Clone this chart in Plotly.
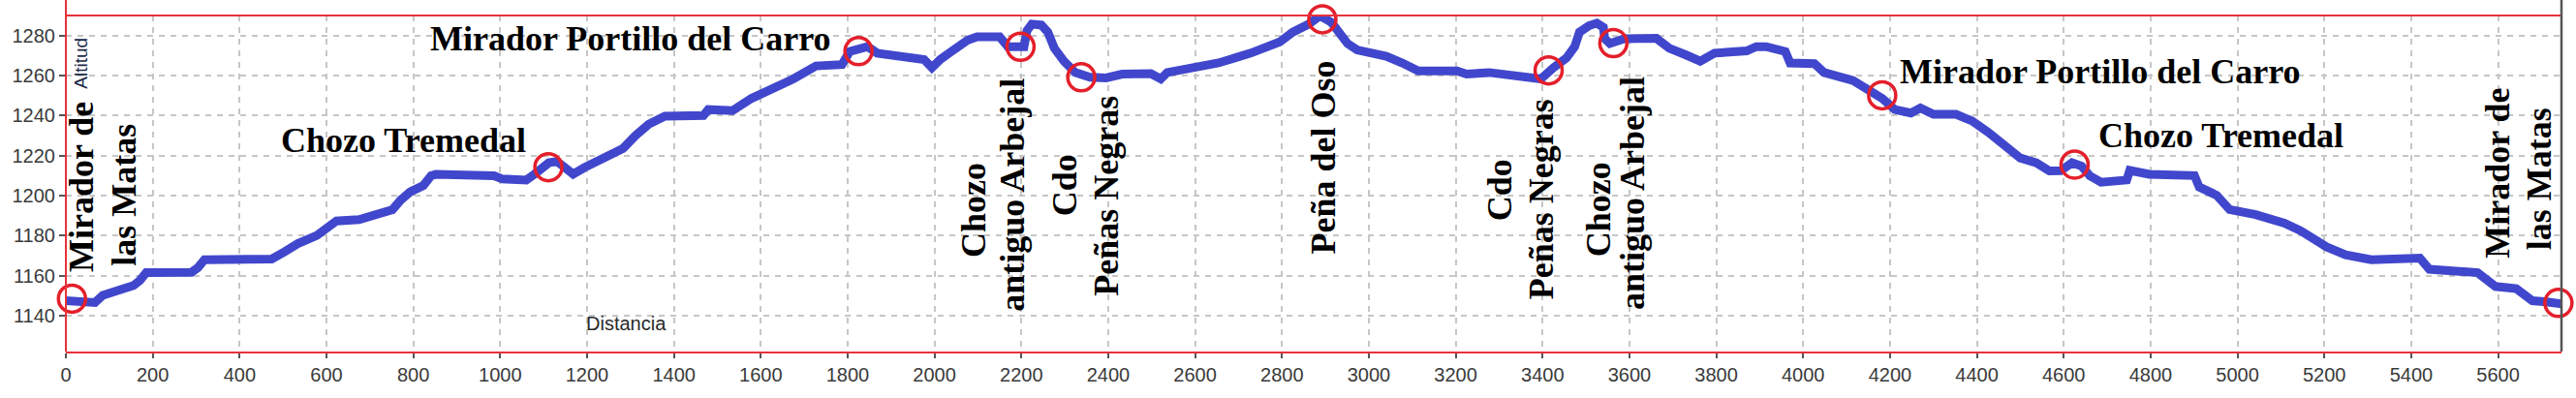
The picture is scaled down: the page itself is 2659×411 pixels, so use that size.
import plotly.graph_objects as go

# ---- data ----
distance = [0, 56, 67, 85, 119, 156, 170, 185, 289, 304, 319, 400, 474, 504, 534, 578, 600, 623,
            675, 712, 752, 771, 793, 823, 841, 852, 934, 986, 1005, 1060, 1079, 1112, 1131, 1149,
            1168, 1194, 1246, 1283, 1312, 1342, 1379, 1468, 1479, 1535, 1579, 1624, 1675, 1727,
            1787, 1805, 1846, 1868, 1913, 1943, 1976, 1994, 2013, 2039, 2076, 2098, 2150, 2169,
            2206, 2213, 2224, 2246, 2261, 2276, 2298, 2324, 2358, 2395, 2432, 2498, 2521, 2536,
            2595, 2654, 2728, 2795, 2825, 2862, 2884, 2891, 2914, 2932, 2951, 2973, 3040, 3077,
            3114, 3203, 3225, 3277, 3366, 3396, 3425, 3455, 3474, 3485, 3507, 3525, 3540, 3543,
            3555, 3588, 3662, 3692, 3729, 3763, 3796, 3870, 3892, 3915, 3959, 3970, 4026, 4048,
            4115, 4152, 4182, 4211, 4248, 4270, 4300, 4352, 4389, 4426, 4456, 4500, 4537, 4567,
            4593, 4619, 4641, 4660, 4686, 4745, 4752, 4797, 4901, 4912, 4952, 4982, 5042, 5108,
            5145, 5205, 5249, 5308, 5420, 5442, 5553, 5594, 5642, 5679, 5712, 5746]
altitude = [1147.5, 1147.5, 1146.6, 1150.2, 1153.0, 1155.1, 1157.5, 1161.5, 1161.7, 1164.0, 1168.0,
            1168.3, 1168.3, 1172.0, 1176.0, 1180.1, 1184.1, 1187.3, 1188.0, 1190.5, 1193.0, 1197.8,
            1201.9, 1205.0, 1209.9, 1210.6, 1210.6, 1209.9, 1208.3, 1207.8, 1210.7, 1216.4, 1217.1,
            1214.0, 1210.7, 1214.0, 1219.6, 1223.6, 1230.1, 1235.7, 1239.7, 1240.0, 1243.0, 1242.5,
            1248.6, 1252.6, 1258.3, 1264.8, 1265.5, 1272.0, 1274.4, 1271.2, 1269.6, 1268.8, 1268.0,
            1263.9, 1268.0, 1272.0, 1277.6, 1279.3, 1279.3, 1274.4, 1274.4, 1282.5, 1285.7, 1285.2,
            1281.7, 1273.6, 1267.2, 1261.5, 1259.1, 1258.8, 1260.7, 1261.0, 1258.3, 1261.5, 1263.9,
            1266.3, 1271.2, 1276.8, 1281.7, 1285.7, 1289.3, 1289.5, 1286.5, 1281.7, 1276.0, 1272.8,
            1269.6, 1266.3, 1262.3, 1262.3, 1260.7, 1261.5, 1259.1, 1258.3, 1263.9, 1268.8, 1274.4,
            1281.7, 1284.9, 1286.2, 1284.1, 1278.5, 1276.0, 1278.4, 1278.6, 1273.6, 1270.4, 1267.2,
            1271.2, 1272.3, 1274.4, 1274.4, 1272.0, 1266.3, 1265.9, 1261.5, 1257.5, 1252.6, 1248.6,
            1243.0, 1241.3, 1243.8, 1240.6, 1240.6, 1237.3, 1231.7, 1226.8, 1218.8, 1216.4, 1212.3,
            1212.4, 1216.4, 1214.7, 1209.9, 1206.7, 1207.8, 1212.6, 1210.7, 1210.0, 1204.3, 1200.2,
            1193.0, 1190.5, 1186.2, 1182.5, 1174.4, 1170.4, 1168.0, 1168.8, 1163.2, 1161.5, 1154.6,
            1153.5, 1147.5, 1146.9, 1145.9]

# waypoints (red circles)
waypoint_x = [14, 1111, 1825, 2198, 2338, 2893, 3414, 3563, 4182, 4625, 5739]
waypoint_y = [1148.5, 1214.2, 1272.2, 1274.4, 1259.1, 1288.1, 1262.6, 1276.2, 1250.1, 1215.5, 1146.4]

x_ticks = list(range(0, 5601, 200))
y_ticks = list(range(1140, 1281, 20))
x_range = [0, 5746]
y_range = [1122.1, 1290]

# label texts with their placement (text, x, y, angle)
labels = [
    ("Mirador Portillo del Carro", 1300, 1278.4, 0),
    ("Mirador Portillo del Carro", 4685, 1261.9, 0),
    ("Chozo Tremedal", 778, 1227.6, 0),
    ("Chozo Tremedal", 4962, 1230.0, 0),
    ("Mirador de", 35.6, 1204.3, -90),
    ("las Matas", 133.4, 1200.5, -90),
    ("Chozo", 2089, 1192.5, -90),
    ("antiguo Arbejal", 2179, 1200.5, -90),
    ("Cdo", 2300, 1205.3, -90),
    ("Peñas Negras", 2395, 1200.0, -90),
    ("Peña del Oso", 2895, 1219.1, -90),
    ("Cdo", 3303, 1202.7, -90),
    ("Peñas Negras", 3398, 1198.1, -90),
    ("Chozo", 3529, 1193.2, -90),
    ("antiguo Arbejal", 3607, 1201.0, -90),
    ("Mirador de", 5598, 1211.1, -90),
    ("las Matas", 5695, 1208.2, -90),
]

RED = "#e8323c"
BLUE = "#4147cc"

fig = go.Figure()
fig.add_trace(go.Scatter(
    x=distance, y=altitude, mode="lines",
    line=dict(color=BLUE, width=9), cliponaxis=False, hoverinfo="skip", showlegend=False))
fig.add_trace(go.Scatter(
    x=waypoint_x, y=waypoint_y, mode="markers",
    marker=dict(symbol="circle-open", size=28, color="#e41f2b", line=dict(width=3.5, color="#e41f2b")),
    cliponaxis=False, hoverinfo="skip", showlegend=False))

annotations = []
for text, lx, ly, ang in labels:
    annotations.append(dict(
        text=text, x=lx, y=ly, xref="x", yref="y", showarrow=False,
        xanchor="center", yanchor="middle", textangle=ang,
        font=dict(family="Liberation Serif", size=36, color="black", weight="bold")))

annotations.append(dict(text="Altitud", x=35.1, y=1266.3, xref="x", yref="y", showarrow=False,
                        xanchor="center", yanchor="middle", textangle=-90,
                        font=dict(family="Liberation Sans", size=19, color="#202848")))
annotations.append(dict(text="Distancia", x=1290, y=1136.1, xref="x", yref="y", showarrow=False,
                        xanchor="center", yanchor="middle",
                        font=dict(family="Liberation Sans", size=20, color="#2a2a2a")))

top_ext = 1 + 16 / 347
shapes = [
    dict(type="line", xref="paper", yref="paper", x0=0, x1=0, y0=0, y1=top_ext,
         line=dict(color=RED, width=2)),
    dict(type="line", xref="paper", yref="paper", x0=0, x1=1, y0=1, y1=1,
         line=dict(color=RED, width=2)),
    dict(type="line", xref="paper", yref="paper", x0=1, x1=1, y0=0, y1=top_ext,
         line=dict(color="#555555", width=2.5)),
]

tickfont = dict(family="Liberation Sans", size=20, color="#3a3a3a")
fig.update_layout(
    width=2659, height=411,
    margin=dict(l=60, r=15, t=16, b=48),
    paper_bgcolor="white", plot_bgcolor="white",
    xaxis=dict(range=x_range, tickvals=x_ticks, showgrid=True, gridcolor="#c6c6c6",
               gridwidth=1.5, griddash="6px,6px", zeroline=False, showline=True,
               linecolor=RED, linewidth=2, ticks="outside", ticklen=5, tickwidth=1.5,
               tickcolor="#555555", tickfont=tickfont),
    yaxis=dict(range=y_range, tickvals=y_ticks, showgrid=True, gridcolor="#c6c6c6",
               gridwidth=1.5, griddash="6px,6px", zeroline=False, showline=False,
               ticks="outside", ticklen=6, tickwidth=1.5, tickcolor="#555555",
               tickfont=tickfont),
    annotations=annotations,
    shapes=shapes,
)

fig.write_html("out.html",
               config={"displayModeBar": False},
               post_script="document.body.style.margin='0';document.body.style.overflow='hidden';")
